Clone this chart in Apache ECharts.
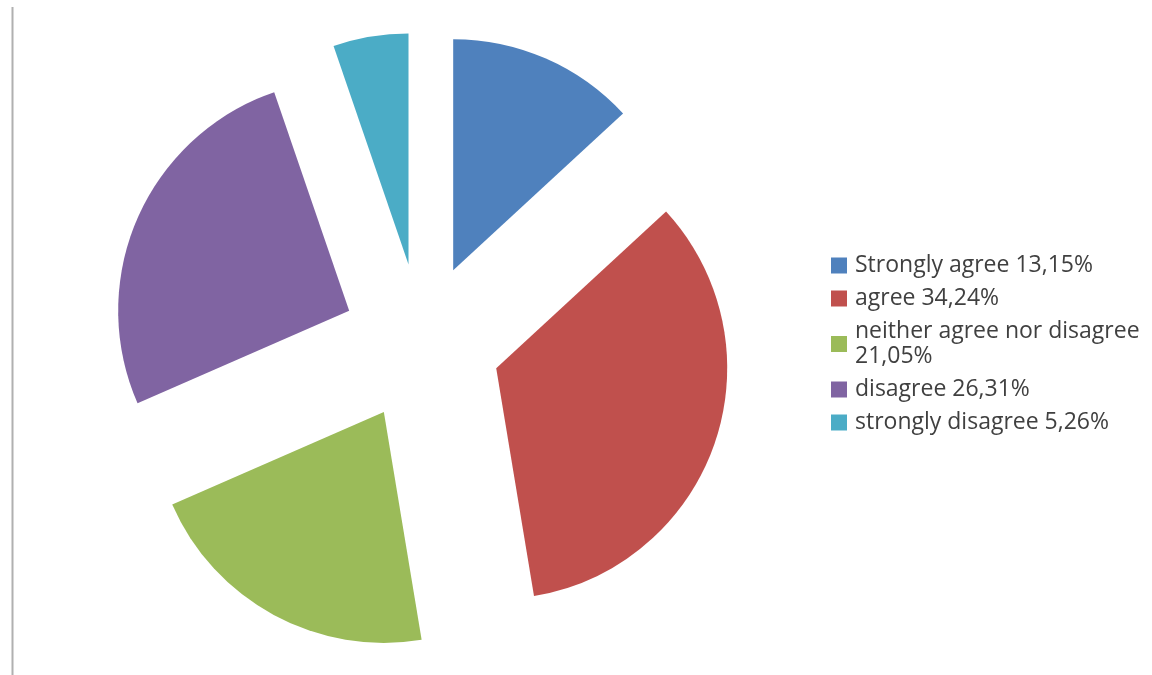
<!DOCTYPE html>
<html>
<head>
<meta charset="utf-8">
<script src="https://cdn.jsdelivr.net/npm/echarts@6/dist/echarts.min.js"></script>
<style>
  html, body { margin: 0; padding: 0; background: #ffffff; }
  #chart { width: 1152px; height: 675px; }
</style>
</head>
<body>
<div id="chart"></div>
<script>
// Survey responses (share of respondents, %)
const categories = [
  'Strongly agree',
  'agree',
  'neither agree nor disagree',
  'disagree',
  'strongly disagree'
];
const values = [13.15, 34.24, 21.05, 26.31, 5.26];
const legendText = [
  'Strongly agree 13,15%',
  'agree 34,24%',
  'neither agree nor disagree\n21,05%',
  'disagree 26,31%',
  'strongly disagree 5,26%'
];
const colors = ['#4F81BD', '#C0504D', '#9BBB59', '#8064A2', '#4BACC6'];

const chart = echarts.init(document.getElementById('chart'), null, { renderer: 'canvas' });

// every slice is pulled out from the centre (exploded pie)
const pieData = categories.map((name, i) => ({
  name: name,
  value: values[i],
  selected: true,
  itemStyle: { color: colors[i] },
  select: { itemStyle: { color: colors[i] } }
}));

chart.setOption({
  animation: false,
  color: colors,
  graphic: [{
    type: 'line',
    shape: { x1: 12.5, y1: 7, x2: 12.5, y2: 675 },
    style: { stroke: '#b0b0b0', lineWidth: 2 },
    silent: true
  }],
  legend: {
    orient: 'vertical',
    left: 831,
    top: 253,
    padding: 0,
    itemWidth: 16,
    itemHeight: 16,
    itemGap: 8,
    icon: 'rect',
    selectedMode: false,
    data: categories,
    formatter: function (name) {
      return legendText[categories.indexOf(name)];
    },
    textStyle: {
      fontFamily: 'Open Sans',
      fontSize: 23,
      color: '#404040',
      lineHeight: 25,
      padding: [0, 0, 0, 3]
    }
  },
  series: [{
    type: 'pie',
    center: [421.5, 342.5],
    radius: [0, 231],
    startAngle: 90,
    clockwise: true,
    selectedMode: 'multiple',
    selectedOffset: 79,
    avoidLabelOverlap: false,
    label: { show: false },
    labelLine: { show: false },
    emphasis: { disabled: true },
    itemStyle: { borderWidth: 0 },
    data: pieData
  }]
});
</script>
</body>
</html>
